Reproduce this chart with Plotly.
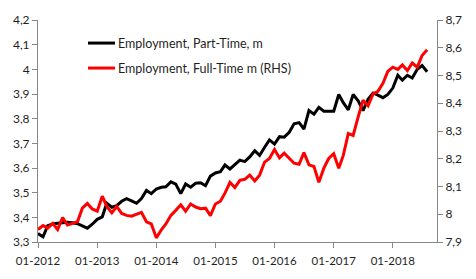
import plotly.graph_objects as go
import pandas as pd

# ---- data ----
start_month = "2012-01-01"
n_months = 80
months = pd.date_range(start_month, periods=n_months, freq="MS")

part_time = [
    3.334, 3.321, 3.366, 3.373, 3.376, 3.378, 3.380, 3.378, 3.374, 3.365,
    3.356, 3.372, 3.392, 3.402, 3.457, 3.441, 3.447, 3.465, 3.476, 3.467,
    3.457, 3.476, 3.509, 3.496, 3.515, 3.522, 3.524, 3.544, 3.535, 3.496,
    3.535, 3.522, 3.538, 3.540, 3.528, 3.567, 3.580, 3.585, 3.612, 3.596,
    3.615, 3.632, 3.626, 3.645, 3.670, 3.651, 3.684, 3.714, 3.697, 3.727,
    3.725, 3.745, 3.779, 3.784, 3.758, 3.833, 3.818, 3.846, 3.830, 3.830,
    3.830, 3.898, 3.865, 3.836, 3.898, 3.872, 3.833, 3.879, 3.904, 3.895,
    3.885, 3.898, 3.924, 3.976, 3.956, 3.976, 3.965, 4.000, 4.015, 3.990,
]
full_time = [
    7.945, 7.959, 7.950, 7.967, 7.945, 7.988, 7.961, 7.967, 7.973, 8.022,
    8.039, 8.019, 8.011, 8.065, 8.028, 8.005, 8.028, 8.003, 7.996, 7.993,
    7.999, 8.007, 7.973, 7.965, 7.915, 7.944, 7.965, 7.996, 8.014, 8.034,
    8.011, 8.037, 8.026, 8.020, 8.022, 7.995, 8.037, 8.047, 8.076, 8.115,
    8.096, 8.122, 8.126, 8.141, 8.120, 8.141, 8.188, 8.201, 8.233, 8.203,
    8.220, 8.201, 8.184, 8.180, 8.222, 8.178, 8.172, 8.115, 8.166, 8.201,
    8.218, 8.166, 8.212, 8.291, 8.284, 8.351, 8.411, 8.391, 8.434, 8.443,
    8.472, 8.515, 8.530, 8.522, 8.538, 8.518, 8.545, 8.530, 8.572, 8.593,
]
series_names = ["Employment, Part-Time, m", "Employment, Full-Time m (RHS)"]
year_ticks = ["2012-01-01", "2013-01-01", "2014-01-01", "2015-01-01",
              "2016-01-01", "2017-01-01", "2018-01-01"]
x_range = ["2012-01-01", "2018-10-01"]
left_range = [3.3, 4.2]
right_range = [7.9, 8.7]

# ---- figure ----
W, H = 476, 279
ml, mr, mt, mb = 38, 39, 16, 32
pw, ph = W - ml - mr, H - mt - mb
FONT = "Lato, Liberation Sans, Arial, sans-serif"
TXT = "#1f1f1f"
AX = "#868686"

fig = go.Figure()
fig.add_trace(go.Scatter(x=months, y=part_time, mode="lines", name=series_names[0],
                         line=dict(color="#000000", width=3), yaxis="y"))
fig.add_trace(go.Scatter(x=months, y=full_time, mode="lines", name=series_names[1],
                         line=dict(color="#FF0000", width=3), yaxis="y2"))

def px_x(p):
    return (p - ml) / pw

def px_y(p):
    return (H - mb - p) / ph

# manual legend
for i, (col, yy) in enumerate([("#000000", 40), ("#FF0000", 66)]):
    fig.add_shape(type="line", xref="paper", yref="paper",
                  x0=px_x(88), x1=px_x(115), y0=px_y(yy), y1=px_y(yy),
                  line=dict(color=col, width=3))
    fig.add_annotation(xref="paper", yref="paper", x=px_x(116), y=px_y(yy),
                       xanchor="left", yanchor="middle", showarrow=False,
                       text=series_names[i], font=dict(family=FONT, size=12.5, color=TXT))

fig.update_layout(
    width=W, height=H,
    margin=dict(l=ml, r=mr, t=mt, b=mb, pad=0),
    paper_bgcolor="white", plot_bgcolor="white",
    showlegend=False,
    separators=", ",
    font=dict(family=FONT, size=12, color=TXT),
    xaxis=dict(type="date", range=x_range, tickvals=year_ticks, tickformat="%m-%Y",
               showgrid=False, zeroline=False, showline=True, linecolor=AX, linewidth=1,
               ticks="outside", ticklen=5, tickcolor=AX, tickfont=dict(size=11.5),
               ticklabelstandoff=3),
    yaxis=dict(range=left_range, dtick=0.1, showgrid=False, zeroline=False,
               showline=True, linecolor=AX, linewidth=1, ticks="outside", ticklen=5,
               tickcolor=AX, tickfont=dict(size=12)),
    yaxis2=dict(range=right_range, dtick=0.1, overlaying="y", side="right",
                showgrid=False, zeroline=False, showline=True, linecolor=AX, linewidth=1,
                ticks="outside", ticklen=5, tickcolor=AX, tickfont=dict(size=12)),
)

fig.write_html("out.html")
